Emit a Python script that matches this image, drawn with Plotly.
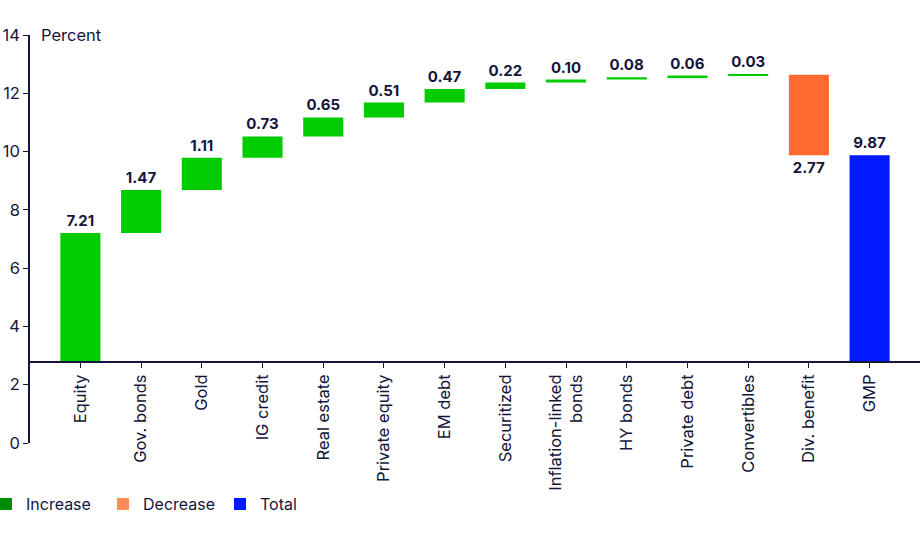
import plotly.graph_objects as go

categories = ["Equity", "Gov. bonds", "Gold", "IG credit", "Real estate", "Private equity",
              "EM debt", "Securitized", "Inflation-linked<br>bonds", "HY bonds", "Private debt",
              "Convertibles", "Div. benefit", "GMP"]
increase_values = [7.21, 1.47, 1.11, 0.73, 0.65, 0.51, 0.47, 0.22, 0.10, 0.08, 0.06, 0.03]
decrease_value = 2.77
total_value = 9.87
y_ticks = [0, 2, 4, 6, 8, 10, 12, 14]

INK = "#14153a"
FONT = "Inter"

# cumulative bases for the waterfall
bases = []
run = 0.0
for v in increase_values:
    bases.append(run)
    run += v
top = run

fig = go.Figure()

txtfont = dict(family=FONT, size=15, color=INK, weight="bold")
fig.add_trace(go.Bar(
    x=categories[:12], y=increase_values, base=bases, width=0.66,
    marker=dict(color="#00cc00", line=dict(width=0)),
    text=[f"{v:.2f}" for v in increase_values], textposition="outside",
    textfont=txtfont, cliponaxis=False, showlegend=False, hoverinfo="skip"))
fig.add_trace(go.Bar(
    x=[categories[12]], y=[-decrease_value], base=[top], width=0.66,
    marker=dict(color="#ff6b30", line=dict(width=0)),
    text=[f"{decrease_value:.2f}"], textposition="outside",
    textfont=txtfont, cliponaxis=False, showlegend=False, hoverinfo="skip"))
fig.add_trace(go.Bar(
    x=[categories[13]], y=[total_value], base=[0], width=0.66,
    marker=dict(color="#0019ff", line=dict(width=0)),
    text=[f"{total_value:.2f}"], textposition="outside",
    textfont=txtfont, cliponaxis=False, showlegend=False, hoverinfo="skip"))

# legend entries (zero-height bars)
for name, col in [("Increase", "#008c00"), ("Decrease", "#ff8a5c"), ("Total", "#0019ff")]:
    fig.add_trace(go.Bar(x=[categories[0]], y=[0], base=[0], width=0.66, name=name,
                         marker=dict(color=col, line=dict(width=0)), showlegend=True,
                         hoverinfo="skip"))

# helper trace for the full-height y axis
fig.add_trace(go.Scatter(x=[0.5], y=[0], xaxis="x2", yaxis="y2", mode="markers",
                         marker=dict(opacity=0, size=1), showlegend=False, hoverinfo="skip"))

y_low = 2.81
fig.update_layout(
    width=920, height=560,
    margin=dict(l=30, r=0, t=35, b=117, autoexpand=False),
    paper_bgcolor="white", plot_bgcolor="rgba(0,0,0,0)",
    barmode="overlay",
    font=dict(family=FONT, size=16, color=INK),
    xaxis=dict(type="category", range=[-0.83, 13.83], anchor="y", showline=True, linecolor=INK,
               linewidth=1.5, ticks="outside", ticklen=5, tickcolor=INK, tickangle=-90,
               tickfont=dict(family=FONT, size=16.5, color=INK), showgrid=False, automargin=False),
    yaxis=dict(domain=[y_low / 14, 1], range=[y_low, 14], showticklabels=False, showline=False,
               ticks="", showgrid=False, zeroline=False, automargin=False),
    xaxis2=dict(domain=[0, 1], range=[0, 1], anchor="y2", showticklabels=False, showline=False,
                ticks="", showgrid=False, zeroline=False),
    yaxis2=dict(domain=[0, 1], range=[0, 14], anchor="x2", tickvals=y_ticks, showline=True,
                linecolor=INK, linewidth=1.5, ticks="outside", ticklen=5, tickcolor=INK,
                tickfont=dict(family=FONT, size=16.5, color=INK), showgrid=False, zeroline=False,
                automargin=False),
    legend=dict(orientation="h", x=-44 / 890, xanchor="left", y=-0.108, yanchor="top",
                font=dict(family=FONT, size=16, color=INK), itemclick=False,
                entrywidth=72, entrywidthmode="pixels"),
    annotations=[dict(text="Percent", xref="paper", x=0, xshift=9, xanchor="left",
                      yref="y2", y=14, yanchor="middle", showarrow=False,
                      font=dict(family=FONT, size=16.5, color=INK))],
)

fig.write_html("out.html")
